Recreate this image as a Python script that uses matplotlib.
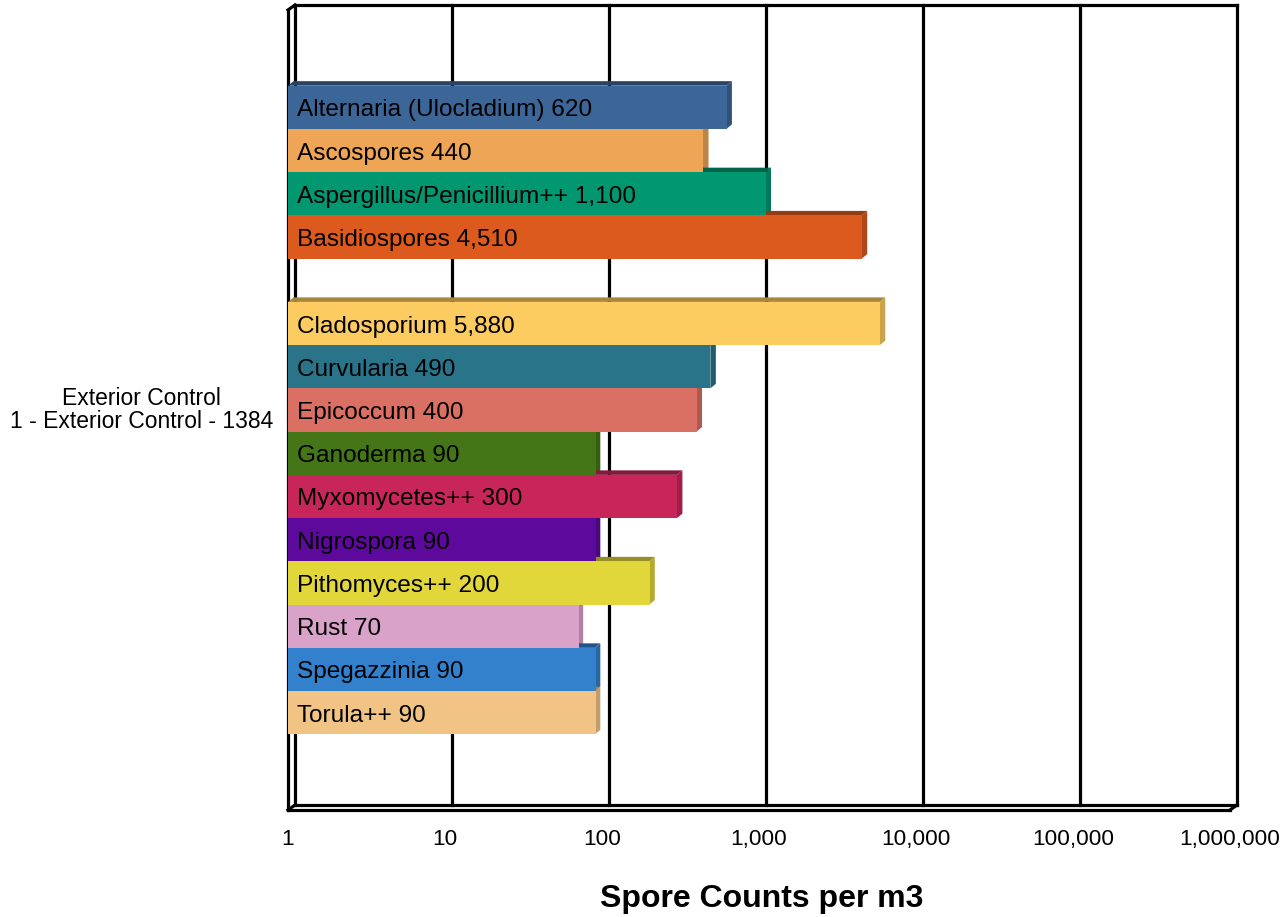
import numpy as np
import matplotlib
matplotlib.use("Agg")
import matplotlib.pyplot as plt
from matplotlib.patches import Polygon
from matplotlib.colors import to_rgb

plt.rcParams['font.family'] = ['Liberation Sans', 'DejaVu Sans']

# Spore types (an empty slot separates the two groups)
taxa = ["Alternaria (Ulocladium)", "Ascospores", "Aspergillus/Penicillium++",
        "Basidiospores", None, "Cladosporium", "Curvularia", "Epicoccum",
        "Ganoderma", "Myxomycetes++", "Nigrospora", "Pithomyces++", "Rust",
        "Spegazzinia", "Torula++"]
counts = [620, 440, 1100, 4510, np.nan, 5880, 490, 400, 90, 300, 90, 200, 70, 90, 90]
colors = ["#3C6697", "#EEA556", "#019771", "#DD5A1F", "#FFFFFF", "#FDCC60",
          "#2A748A", "#DA7064", "#447516", "#C8265A", "#5D0A9C", "#E1D63A",
          "#D9A2C8", "#3381CC", "#F1C486"]
tick_values = [1, 10, 100, 1000, 10000, 100000, 1000000]
tick_labels = ["1", "10", "100", "1,000", "10,000", "100,000", "1,000,000"]
sample_label = "Exterior Control\n1 - Exterior Control - 1384"
x_title = "Spore Counts per m3"

W, H, DPI = 1284, 917, 100
fig = plt.figure(figsize=(W / DPI, H / DPI), dpi=DPI)

# front plane of the 3-D box, in pixels
left_px, right_px, top_px, bottom_px = 288, 1230, 10, 810
ax = fig.add_axes([left_px / W, 1 - bottom_px / H,
                   (right_px - left_px) / W, (bottom_px - top_px) / H])
ax.set_xscale('log')
xmin, xmax = tick_values[0], tick_values[-1]
n = len(taxa)
margin = 2.25
ymin, ymax = -margin, n - 1 + margin
ax.set_xlim(xmin, xmax)
ax.set_ylim(ymax, ymin)
for s in ax.spines.values():
    s.set_visible(False)
ax.set_yticks([])
ax.set_xticks(tick_values)
ax.set_xticklabels(tick_labels, fontsize=16.2)
ax.xaxis.set_minor_locator(matplotlib.ticker.NullLocator())
ax.tick_params(axis='x', length=0, pad=14)
ax.patch.set_alpha(0)

# pixel -> data conversions for the depth offsets
px_per_decade = (right_px - left_px) / np.log10(xmax / xmin)
px_per_slot = (bottom_px - top_px) / (ymax - ymin)

def depth(dx_px, dy_px):
    return 10 ** (dx_px / px_per_decade), dy_px / px_per_slot

wfx, wdy = depth(7, 5)      # wall depth
bfx, bdy = depth(5.5, 4.5)  # bar depth

lw = 2.3
line_kw = dict(color='black', lw=lw, clip_on=False, solid_capstyle='projecting', zorder=1)

# back-wall gridlines
for v in tick_values[1:]:
    ax.plot([v * wfx, v * wfx], [ymin - wdy, ymax - wdy], **line_kw)
# back-wall top edge
ax.plot([xmin * wfx, xmax * wfx], [ymin - wdy, ymin - wdy], **line_kw)
# left wall
ax.plot([xmin, xmin], [ymin, ymax], **line_kw)
ax.plot([xmin * wfx, xmin * wfx], [ymin - wdy, ymax - wdy], **line_kw)
ax.plot([xmin, xmin * wfx], [ymin, ymin - wdy], **line_kw)
# floor
ax.plot([xmin, xmax], [ymax, ymax], **line_kw)
ax.plot([xmin * wfx, xmax * wfx], [ymax - wdy, ymax - wdy], **line_kw)
ax.plot([xmin, xmin * wfx], [ymax, ymax - wdy], **line_kw)
ax.plot([xmax, xmax * wfx], [ymax, ymax - wdy], **line_kw)

def shade(c, f):
    r, g, b = to_rgb(c)
    return (r * f, g * f, b * f)

ypos = np.arange(n)
h = 1.0
for i, (name, val, col) in enumerate(zip(taxa, counts, colors)):
    if name is None or np.isnan(val):
        continue
    y0, y1 = ypos[i] - h / 2, ypos[i] + h / 2
    # top face
    ax.add_patch(Polygon([(xmin, y0), (val, y0), (val * bfx, y0 - bdy), (xmin * bfx, y0 - bdy)],
                         closed=True, facecolor=shade(col, 0.66), edgecolor='none',
                         zorder=3 + i * 0.01, clip_on=False))
    # side face
    ax.add_patch(Polygon([(val, y0), (val * bfx, y0 - bdy), (val * bfx, y1 - bdy), (val, y1)],
                         closed=True, facecolor=shade(col, 0.8), edgecolor='none',
                         zorder=3 + i * 0.01, clip_on=False))

vals = np.array(counts, dtype=float)
valid = ~np.isnan(vals)
ax.barh(ypos[valid], vals[valid], height=h, left=xmin,
        color=[c for c, ok in zip(colors, valid) if ok], edgecolor='none', zorder=4)

for i, (name, val) in enumerate(zip(taxa, counts)):
    if name is None or np.isnan(val):
        continue
    ax.annotate(f"{name} {int(val):,}", xy=(xmin, ypos[i]), xytext=(9, -3),
                textcoords='offset pixels', ha='left', va='center',
                fontsize=17.6, color='black', zorder=5, annotation_clip=False)

fig.text(273 / W, 1 - 410 / H, sample_label, ha='right', va='center',
         multialignment='center', fontsize=16.5, linespacing=1.0)
fig.text(762 / W, 1 - 899 / H, x_title, ha='center', va='center',
         fontsize=23, fontweight='bold')

fig.savefig("out.png", dpi=DPI, facecolor='white')
